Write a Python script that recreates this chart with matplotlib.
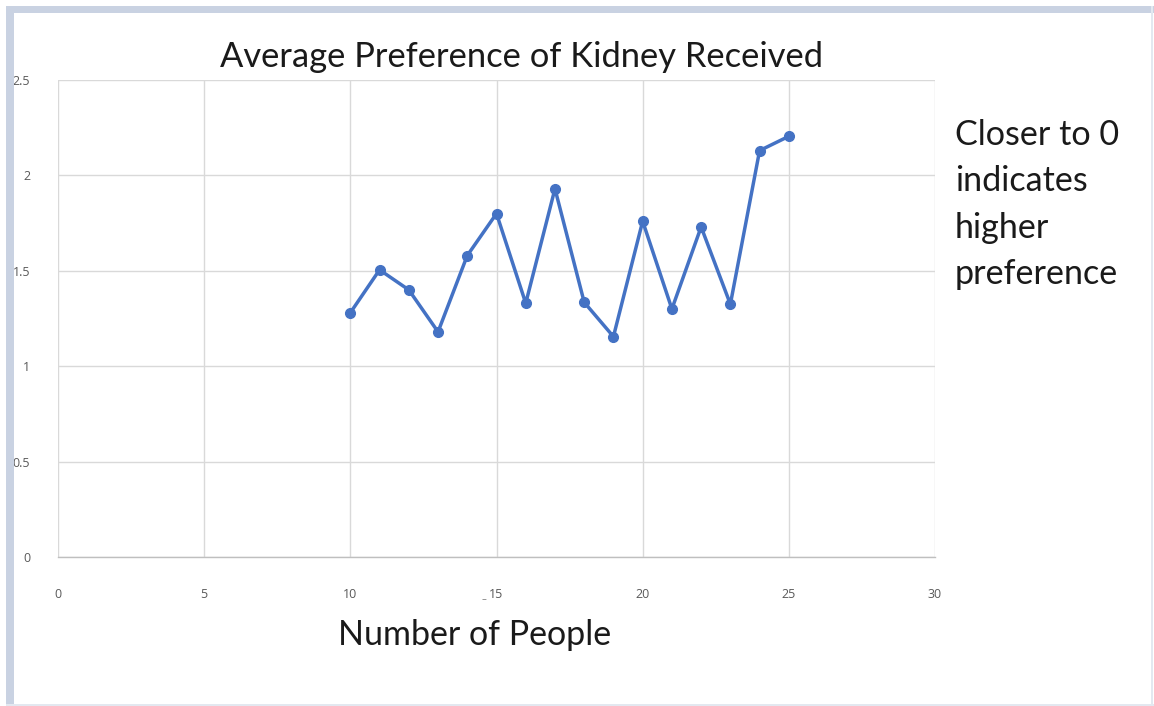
import matplotlib
matplotlib.use("Agg")
import matplotlib.pyplot as plt
from matplotlib.patches import Rectangle

people = [10, 11, 12, 13, 14, 15, 16, 17, 18, 19, 20, 21, 22, 23, 24, 25]
avg_pref = [1.28, 1.505, 1.40, 1.18, 1.58, 1.80, 1.33, 1.93, 1.335, 1.155,
            1.76, 1.30, 1.73, 1.325, 2.13, 2.205]
x_ticks = [0, 5, 10, 15, 20, 25, 30]
y_ticks = [0, 0.5, 1, 1.5, 2, 2.5]
y_tick_labels = ["0", "0.5", "1", "1.5", "2", "2.5"]

W, H = 1154, 706
fig = plt.figure(figsize=(W / 100, H / 100), dpi=100)
fig.patch.set_facecolor("white")

# frame stripes
fig.patches.append(Rectangle((6 / W, 0), 8 / W, 1 - 6 / H, transform=fig.transFigure,
                             facecolor="#c9d2e2", edgecolor="none"))
fig.patches.append(Rectangle((6 / W, 1 - 13 / H), 1 - 6 / W, 7 / H, transform=fig.transFigure,
                             facecolor="#c9d2e2", edgecolor="none"))
fig.patches.append(Rectangle((1151 / W, 0), 2 / W, 1 - 6 / H, transform=fig.transFigure,
                             facecolor="#e3e8f0", edgecolor="none"))
fig.patches.append(Rectangle((6 / W, 0), 1 - 6 / W, 2 / H, transform=fig.transFigure,
                             facecolor="#e3e8f0", edgecolor="none"))

left, right = 58 / W, 935 / W
bottom, top = 1 - 557 / H, 1 - 80 / H
ax = fig.add_axes([left, bottom, right - left, top - bottom])
ax.set_xlim(0, 30)
ax.set_ylim(0, 2.5)
ax.set_xticks(x_ticks)
ax.set_yticks(y_ticks)
ax.set_yticklabels(y_tick_labels)
ax.grid(True, color="#d9d9d9", linewidth=1.0)
ax.set_axisbelow(True)
for s in ["top", "right", "left"]:
    ax.spines[s].set_visible(False)
ax.spines["bottom"].set_color("#bfbfbf")
ax.spines["bottom"].set_linewidth(1.0)
ax.tick_params(axis="both", length=0, labelsize=9, labelcolor="#595959")
ax.tick_params(axis="y", pad=20)
ax.tick_params(axis="x", pad=22)
for lab in ax.get_xticklabels() + ax.get_yticklabels():
    lab.set_fontfamily("Open Sans")

ax.plot(people, avg_pref, color="#4472C4", linewidth=2.5, marker="o",
        markersize=7, markerfacecolor="#4472C4", markeredgecolor="#4472C4")

fig.text(521 / W, 1 - 57 / H, "Average Preference of Kidney Received",
         ha="center", va="center", fontsize=24.8, family="Lato", color="#1a1a1a")
fig.text(475 / W, 1 - 635 / H, "Number of People", ha="center", va="center",
         fontsize=24.5, family="Lato", color="#1a1a1a")
fig.text(955 / W, 1 - 119 / H, "Closer to 0\nindicates\nhigher\npreference",
         ha="left", va="top", fontsize=24.6, family="Lato", color="#1a1a1a",
         linespacing=1.55)
fig.text(484 / W, 1 - 599 / H, "\u2013", ha="center", va="center", fontsize=7,
         color="#808080")

fig.savefig("out.png", dpi=100, facecolor="white")
